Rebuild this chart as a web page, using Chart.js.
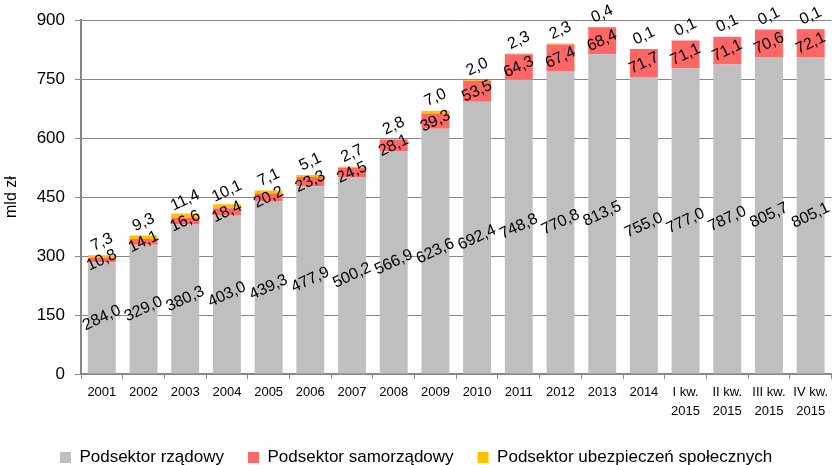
<!DOCTYPE html>
<html>
<head>
<meta charset="utf-8">
<script src="https://cdn.jsdelivr.net/npm/chart.js@4"></script>
<style>
  html, body { margin: 0; padding: 0; background: #fff; }
  #wrap { width: 832px; height: 465px; }
</style>
</head>
<body>
<div id="wrap"><canvas id="dlugChart"></canvas></div>
<script>
const okresy = ['2001', '2002', '2003', '2004', '2005', '2006', '2007', '2008', '2009', '2010',
  '2011', '2012', '2013', '2014', ['I kw.', '2015'], ['II kw.', '2015'], ['III kw.', '2015'], ['IV kw.', '2015']];
const rzadowy = [284.0, 329.0, 380.3, 403.0, 439.3, 477.9, 500.2, 566.9, 623.6, 692.4,
  748.8, 770.8, 813.5, 755.0, 777.0, 787.0, 805.7, 805.1];
const samorzadowy = [10.8, 14.1, 16.6, 18.4, 20.2, 23.3, 24.5, 28.1, 39.3, 53.5,
  64.3, 67.4, 68.4, 71.7, 71.1, 71.1, 70.6, 72.1];
const ubezpieczen = [7.3, 9.3, 11.4, 10.1, 7.1, 5.1, 2.7, 2.8, 7.0, 2.0,
  2.3, 2.3, 0.4, 0.1, 0.1, 0.1, 0.1, 0.1];
const osY = [0, 150, 300, 450, 600, 750, 900];

const czcionka = '"Liberation Sans", Arial, sans-serif';

function fmt(v) {
  return v.toFixed(1).replace('.', ',');
}

// etykiety wartosci, obrocone jak w Excelu
const etykiety = {
  id: 'etykiety',
  afterDatasetsDraw(chart) {
    const ctx = chart.ctx;
    ctx.save();
    ctx.font = '16px ' + czcionka;
    ctx.fillStyle = '#000';
    ctx.textAlign = 'center';
    ctx.textBaseline = 'middle';
    chart.data.datasets.forEach((ds, i) => {
      const meta = chart.getDatasetMeta(i);
      meta.data.forEach((bar, j) => {
        let y = (bar.y + bar.base) / 2;
        if (i == 2) {
          y = bar.y - 13;
        }
        ctx.save();
        ctx.translate(bar.x, y);
        ctx.rotate(-25 * Math.PI / 180);
        ctx.fillText(fmt(ds.data[j]), 0, 0);
        ctx.restore();
      });
    });
    ctx.restore();
  }
};

const ctx = document.getElementById('dlugChart').getContext('2d');
const chart = new Chart(ctx, {
  type: 'bar',
  data: {
    labels: okresy,
    datasets: [
      { label: 'Podsektor rządowy', data: rzadowy, backgroundColor: '#BFBFBF' },
      { label: 'Podsektor samorządowy', data: samorzadowy, backgroundColor: '#FF6666' },
      { label: 'Podsektor ubezpieczeń społecznych', data: ubezpieczen, backgroundColor: '#FFC000' }
    ]
  },
  options: {
    responsive: true,
    maintainAspectRatio: false,
    animation: false,
    datasets: {
      bar: { categoryPercentage: 1.0, barPercentage: 0.67, borderWidth: 0 }
    },
    layout: { padding: { top: 5, right: 0, left: 0, bottom: -11 } },
    plugins: {
      tooltip: { enabled: false },
      legend: {
        position: 'bottom',
        labels: {
          boxWidth: 11,
          boxHeight: 11,
          padding: 24,
          color: '#000',
          font: { family: czcionka, size: 17 }
        }
      }
    },
    scales: {
      x: {
        stacked: true,
        grid: { display: true, drawOnChartArea: false, drawTicks: true, tickLength: 5, color: '#878787', offset: true },
        border: { display: true, color: '#878787', width: 2 },
        ticks: {
          color: '#000',
          maxRotation: 0,
          autoSkip: false,
          padding: 4,
          font: { family: czcionka, size: 13, lineHeight: 1.45 }
        },
        afterFit(scale) { scale.height = 51; }
      },
      y: {
        stacked: true,
        min: 0,
        max: 900,
        afterBuildTicks(scale) { scale.ticks = osY.map(v => ({ value: v })); },
        grid: { color: '#878787', lineWidth: 1, tickLength: 6 },
        border: { display: true, color: '#878787', width: 2 },
        ticks: {
          color: '#000',
          padding: 10,
          font: { family: czcionka, size: 17 }
        },
        title: {
          display: true,
          text: 'mld zł',
          color: '#000',
          padding: { top: 2, bottom: 0 },
          font: { family: czcionka, size: 16 }
        },
        afterFit(scale) { scale.width = 81; }
      }
    }
  },
  plugins: [etykiety]
});
</script>
</body>
</html>
